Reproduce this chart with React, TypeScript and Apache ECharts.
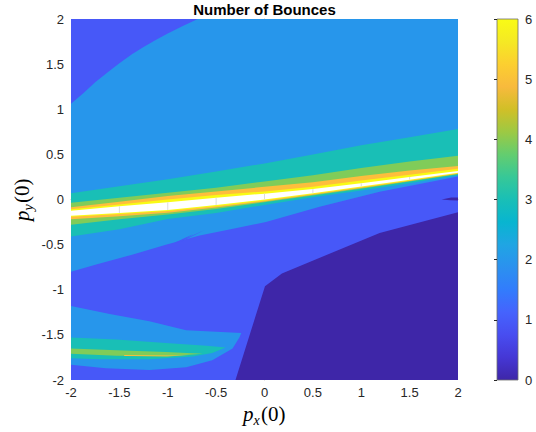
import React, { useEffect, useRef } from "react";
import * as echarts from "echarts";

// ---- axis ticks / band stations ----
const xTicks = [-2, -1.5, -1, -0.5, 0, 0.5, 1, 1.5, 2];
const colorbarTicks = [0, 1, 2, 3, 4, 5, 6];

// ---- fill colours for contour levels 0..6 (parula) ----
const levelColors = ["#3E26A8", "#4758F8", "#2796EB", "#19BFB6", "#80CC59", "#FEBE3C", "#F9FB15"];
const overColor = "#FFFFFF";

// ---- parula colormap stops for the colorbar ----
const parulaStops = [
  "#3E26A8", "#4537D5", "#484DF0", "#4563FD", "#327CFC", "#2B91EF", "#20A5E3", "#08B5D0",
  "#19BFB6", "#37C897", "#64CD6F", "#9DC943", "#D1BF27", "#F8BA3D", "#FCCF30", "#F5E924", "#F9FB15",
];

// ---- main diagonal band: boundaries (y) at each station in xTicks ----
const tealTop = [0.07, 0.147, 0.225, 0.31, 0.4, 0.5, 0.6, 0.69, 0.78];
const greenTop = [-0.035, 0.02, 0.075, 0.13, 0.2, 0.27, 0.35, 0.42, 0.485];
const orangeTop = [-0.087, -0.024, 0.039, 0.09, 0.14, 0.19, 0.26, 0.32, 0.37];
const yellowTop = [-0.109, -0.055, 0.0, 0.05, 0.09, 0.14, 0.21, 0.275, 0.34];
const whiteTop = [-0.124, -0.075, -0.03, 0.02, 0.065, 0.115, 0.18, 0.25, 0.316];
const whiteBottom = [-0.18, -0.15, -0.116, -0.062, 0.0, 0.07, 0.145, 0.22, 0.297];
const yellowBottom = [-0.19, -0.162, -0.128, -0.075, -0.012, 0.06, 0.135, 0.21, 0.29];
const orangeBottom = [-0.22, -0.185, -0.148, -0.09, -0.022, 0.052, 0.127, 0.205, 0.285];
const greenBottom = [-0.28, -0.22, -0.165, -0.105, -0.03, 0.045, 0.12, 0.2, 0.28];
const tealBottom = [-0.41, -0.33, -0.215, -0.15, -0.06, 0.025, 0.1, 0.18, 0.27];

// ---- level-2 region (light blue) boundaries ----
const lightBlueTopLeft = [
  [-2, 1.06], [-1.87, 1.18], [-1.75, 1.3], [-1.62, 1.41], [-1.5, 1.51], [-1.37, 1.61],
  [-1.25, 1.69], [-1.12, 1.77], [-1.0, 1.84], [-0.85, 1.92], [-0.69, 2.0],
];
const lightBlueLower = [
  [-2, -0.8], [-1.74, -0.72], [-1.36, -0.61], [-1.02, -0.5], [-0.915, -0.47], [-0.67, -0.4],
  [-0.35, -0.33], [0.015, -0.25], [0.57, -0.08], [1.19, 0.087], [2, 0.255],
];
const blueSpikes = [
  [[-0.9, -0.475], [-0.62, -0.338], [-0.8, -0.435]],
  [[-0.93, -0.48], [-0.74, -0.385], [-0.86, -0.465]],
];

// ---- level-0 region (dark) boundary ----
const darkEdge = [[-0.3, -2], [0.005, -0.96], [0.18, -0.82], [1.19, -0.37], [2, -0.14]];
const darkSpot = [[1.83, 0.0], [1.93, 0.022], [2, 0.022], [2, -0.01], [1.92, -0.008]];

// ---- lower-left blob ----
const blobLightBlue = [
  [-2, -1.18], [-1.6, -1.27], [-1.19, -1.35], [-0.81, -1.45], [-0.24, -1.48], [-0.26, -1.53],
  [-0.33, -1.65], [-0.54, -1.78], [-0.81, -1.86], [-1.19, -1.89], [-1.64, -1.87], [-2, -1.83],
];
const blobTeal = [
  [-2, -1.53], [-1.53, -1.55], [-1.02, -1.59], [-0.6, -1.62], [-0.4, -1.64], [-0.54, -1.7],
  [-0.74, -1.74], [-1.19, -1.77], [-1.71, -1.77], [-2, -1.76],
];
const blobGreen = [
  [-2, -1.65], [-1.53, -1.67], [-1.02, -1.69], [-0.64, -1.71], [-1.02, -1.74], [-1.53, -1.73], [-2, -1.71],
];
const blobOrange = [[-1.45, -1.724], [-1.0, -1.728], [-0.78, -1.728], [-1.0, -1.737], [-1.45, -1.734]];

type Region = { pts: number[][]; color: string; grid?: boolean };

const band = (top: number[], bottom: number[]) => [
  ...xTicks.map((x, i) => [x, top[i]]),
  ...xTicks.map((x, i) => [x, bottom[i]]).reverse(),
];

const regions: Region[] = [
  { pts: [[-2, -2], [2, -2], [2, 2], [-2, 2]], color: levelColors[0] },
  { pts: [[-2, -2], ...darkEdge, [2, 2], [-2, 2]], color: levelColors[1] },
  { pts: [...lightBlueTopLeft, [2, 2], ...[...lightBlueLower].reverse()], color: levelColors[2] },
  ...blueSpikes.map((s) => ({ pts: s, color: levelColors[1] })),
  { pts: band(tealTop, tealBottom), color: levelColors[3] },
  { pts: band(greenTop, greenBottom), color: levelColors[4] },
  { pts: band(orangeTop, orangeBottom), color: levelColors[5] },
  { pts: band(yellowTop, yellowBottom), color: levelColors[6] },
  { pts: band(whiteTop, whiteBottom), color: overColor, grid: true },
  { pts: blobLightBlue, color: levelColors[2] },
  { pts: blobTeal, color: levelColors[3] },
  { pts: blobGreen, color: levelColors[4] },
  { pts: blobOrange, color: levelColors[5] },
  { pts: darkSpot, color: levelColors[0] },
];

const tickFont = "'Liberation Sans', Arial, Helvetica, sans-serif";
const serif = "'Liberation Serif', 'Times New Roman', serif";
const textColor = "#262626";

function mathLabel(sub: string) {
  return [
    { type: "text", x: -21, y: 0, style: { text: "p", font: `italic 21px ${serif}`, fill: "#000", verticalAlign: "middle", align: "left" } },
    { type: "text", x: -10.5, y: 6, style: { text: sub, font: `italic 14px ${serif}`, fill: "#000", verticalAlign: "middle", align: "left" } },
    { type: "text", x: -3, y: 0, style: { text: "(0)", font: `21px ${serif}`, fill: "#000", verticalAlign: "middle", align: "left" } },
  ];
}

export default function App() {
  const ref = useRef<HTMLDivElement>(null);
  useEffect(() => {
    if (!ref.current) return;
    const chart = echarts.init(ref.current, null, { renderer: "svg" });
    const gradient = new echarts.graphic.LinearGradient(
      0, 1, 0, 0,
      parulaStops.map((c, i) => ({ offset: i / (parulaStops.length - 1), color: c }))
    );
    chart.setOption({
      animation: false,
      backgroundColor: "#ffffff",
      grid: [
        { left: 71, top: 19, width: 387, height: 361 },
        { left: 497, top: 19, width: 21, height: 361 },
      ],
      xAxis: [
        {
          gridIndex: 0, type: "value", min: -2, max: 2, interval: 0.5,
          axisLine: { show: true, lineStyle: { color: "#c4c4c4" } },
          axisTick: { show: false },
          splitLine: { show: false },
          axisLabel: { color: textColor, fontSize: 13, fontFamily: tickFont, margin: 6 },
        },
        { gridIndex: 1, type: "value", min: 0, max: 1, show: false },
      ],
      yAxis: [
        {
          gridIndex: 0, type: "value", min: -2, max: 2, interval: 0.5,
          axisLine: { show: true, lineStyle: { color: "#c4c4c4" } },
          axisTick: { show: false },
          splitLine: { show: false },
          axisLabel: { color: textColor, fontSize: 13, fontFamily: tickFont, margin: 7 },
        },
        {
          gridIndex: 1, type: "value", min: colorbarTicks[0], max: colorbarTicks[colorbarTicks.length - 1], interval: 1,
          position: "right", z: 5,
          axisLine: { show: false },
          axisTick: { show: true, inside: true, length: 3, lineStyle: { color: textColor } },
          splitLine: { show: false },
          axisLabel: { color: textColor, fontSize: 13, fontFamily: tickFont, margin: 7 },
        },
      ],
      series: [
        {
          type: "custom",
          xAxisIndex: 0, yAxisIndex: 0,
          clip: true,
          data: regions.map(() => [0, 0]),
          renderItem: (params: any, api: any) => {
            const r = regions[params.dataIndex];
            const points = r.pts.map((p) => api.coord(p));
            const children: any[] = [{ type: "polygon", shape: { points }, style: { fill: r.color } }];
            if (r.grid) {
              xTicks.forEach((x, i) => {
                if (i === 0 || i === xTicks.length - 1) return;
                const a = api.coord([x, whiteTop[i]]);
                const b = api.coord([x, whiteBottom[i]]);
                children.push({
                  type: "line",
                  shape: { x1: a[0], y1: a[1], x2: b[0], y2: b[1] },
                  style: { stroke: "#dcdcdc", lineWidth: 1 },
                });
              });
            }
            return { type: "group", children };
          },
        },
        {
          type: "custom",
          xAxisIndex: 1, yAxisIndex: 1,
          data: [[0, 0]],
          renderItem: (params: any, api: any) => {
            const tl = api.coord([0, colorbarTicks[colorbarTicks.length - 1]]);
            const br = api.coord([1, colorbarTicks[0]]);
            return {
              type: "rect",
              shape: { x: tl[0], y: tl[1], width: br[0] - tl[0], height: br[1] - tl[1] },
              style: { fill: gradient, stroke: "#6e6e6e", lineWidth: 0.8 },
            };
          },
        },
      ],
      graphic: [
        {
          type: "text", x: 264.5, y: 2,
          style: { text: "Number of Bounces", font: `bold 15px ${tickFont}`, fill: "#000", align: "center", verticalAlign: "top" },
        },
        { type: "group", x: 264, y: 414, children: mathLabel("x") },
        { type: "group", x: 22, y: 200, rotation: Math.PI / 2, children: mathLabel("y") },
      ],
    });
    return () => chart.dispose();
  }, []);
  return <div ref={ref} style={{ position: "fixed", left: 0, top: 0, width: 536, height: 432 }} />;
}
